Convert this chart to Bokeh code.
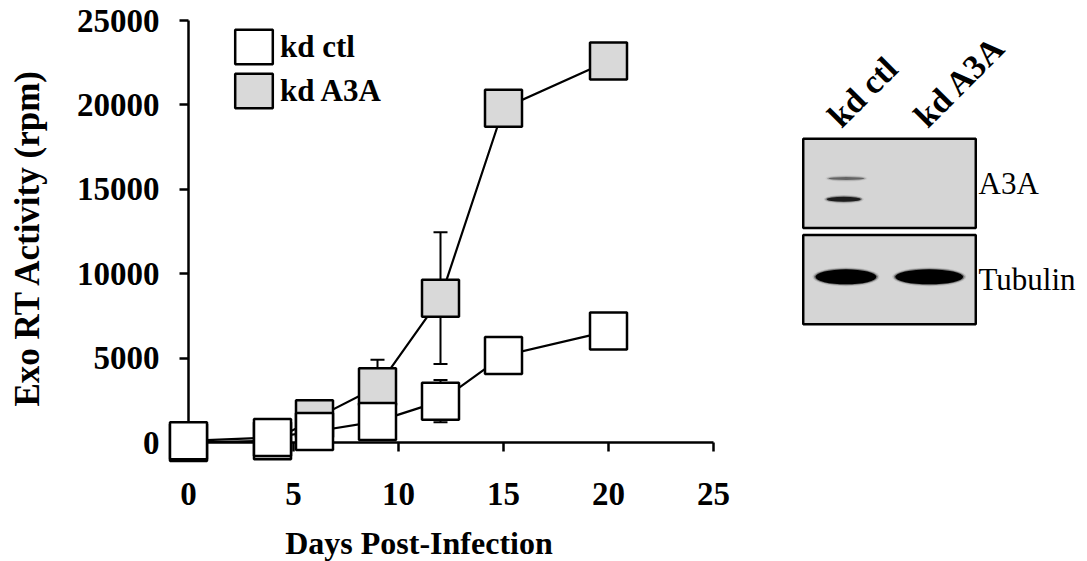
from math import pi

from bokeh.core.properties import value
from bokeh.embed import file_html
from bokeh.layouts import row
from bokeh.models import (ColumnDataSource, FactorRange, FixedTicker,
                          Legend, LegendItem, Range1d, TeeHead, Whisker)
from bokeh.plotting import figure
from bokeh.resources import INLINE

# ---------------- data ----------------
days = [0, 4, 6, 9, 12, 15, 20]
kd_ctl = [100, 300, 650, 1250, 2450, 5150, 6600]
kd_ctl_err = [50, 100, 150, 300, 1250, 250, 300]
kd_a3a = [0, 100, 1400, 3300, 8550, 19800, 22600]
kd_a3a_err = [0, 50, 300, 1600, 3900, 400, 400]

x_ticks = [0, 5, 10, 15, 20, 25]
y_ticks = [0, 5000, 10000, 15000, 20000, 25000]
series_names = ["kd ctl", "kd A3A"]
x_title = "Days Post-Infection"
y_title = "Exo RT Activity (rpm)"

# western blot
lanes = ["kd ctl", "kd A3A"]
proteins = ["Tubulin", "A3A"]          # bottom row first
band_lane = ["kd ctl", "kd ctl", "kd ctl", "kd A3A"]
band_protein = ["A3A", "A3A", "Tubulin", "Tubulin"]
band_intensity = [0.42, 0.8, 1.0, 1.0]

# ---------------- styles ----------------
FONT = "Liberation Serif"
GREY = "#d9d9d9"
BLOT_BG = "#d5d5d5"
H = 561
TOP, BOTTOM = 20, 119        # shared so the row keeps both frames in place

# ---------------- line chart ----------------
x_rng = Range1d(x_ticks[0], x_ticks[-1])
y_rng = Range1d(y_ticks[0], y_ticks[-1])
p = figure(width=770, height=H, x_range=x_rng, y_range=y_rng,
           output_backend="svg", toolbar_location=None,
           min_border_left=188, min_border_right=57, min_border_top=TOP, min_border_bottom=BOTTOM)
p.outline_line_color = None
p.grid.visible = False

for ax in (p.xaxis[0], p.yaxis[0]):
    ax.axis_line_width = 2.5
    ax.axis_line_color = "black"
    ax.major_tick_line_width = 2.5
    ax.major_tick_line_color = "black"
    ax.major_tick_out = 9
    ax.major_tick_in = 0
    ax.minor_tick_line_color = None
    ax.major_label_text_font = FONT
    ax.major_label_text_font_style = "bold"
    ax.major_label_text_font_size = "33px"
    ax.major_label_text_color = "black"
p.xaxis.ticker = FixedTicker(ticks=x_ticks)
p.yaxis.ticker = FixedTicker(ticks=y_ticks)
p.xaxis.major_label_standoff = 31
p.yaxis.major_label_standoff = 20


def make_source(vals, errs):
    return ColumnDataSource(dict(day=days, val=vals,
                                 upper=[v + e for v, e in zip(vals, errs)],
                                 lower=[v - e for v, e in zip(vals, errs)]))


src_a = make_source(kd_a3a, kd_a3a_err)
src_c = make_source(kd_ctl, kd_ctl_err)

for src in (src_a, src_c):
    p.add_layout(Whisker(source=src, base="day", upper="upper", lower="lower",
                         line_width=2, line_color="black",
                         upper_head=TeeHead(size=14, line_width=2, line_color="black"),
                         lower_head=TeeHead(size=14, line_width=2, line_color="black")))

p.line("day", "val", source=src_a, line_width=2.2, line_color="black")
p.line("day", "val", source=src_c, line_width=2.2, line_color="black")

r_a = p.rect("day", "val", width=37, height=37, width_units="screen", height_units="screen",
             source=src_a, fill_color=GREY, line_color="black", line_width=2.5, level="overlay")
r_c = p.rect("day", "val", width=37, height=37, width_units="screen", height_units="screen",
             source=src_c, fill_color="white", line_color="black", line_width=2.5, level="overlay")

legend = Legend(items=[LegendItem(label=series_names[0], renderers=[r_c]),
                       LegendItem(label=series_names[1], renderers=[r_a])],
                location=(42, 330), glyph_width=47, glyph_height=43, spacing=1,
                padding=0, margin=0, label_standoff=3,
                border_line_alpha=0, background_fill_alpha=0,
                label_text_font=FONT, label_text_font_style="bold",
                label_text_font_size="31px", label_text_color="black")
p.add_layout(legend)

# axis titles, anchored at the middle of each axis and shifted in pixels
x_mid = (x_rng.start + x_rng.end) / 2
y_mid = (y_rng.start + y_rng.end) / 2
p.text(x=[x_rng.start], y=[y_mid], text=[y_title], angle=pi / 2, x_offset=-161, y_offset=6,
       text_align="center", text_baseline="middle", text_font=value(FONT),
       text_font_style="bold", text_font_size="35px", text_color="black", level="overlay")
p.text(x=[x_mid], y=[y_rng.start], text=[x_title], x_offset=-32, y_offset=100,
       text_align="center", text_baseline="alphabetic", text_font=value(FONT),
       text_font_style="bold", text_font_size="32px", text_color="black", level="overlay")

# ---------------- western blot ----------------
p2 = figure(width=317, height=H,
            x_range=FactorRange(factors=lanes, range_padding=0.02),
            y_range=FactorRange(factors=proteins, range_padding=1.187,
                                range_padding_units="absolute"),
            x_axis_location=None, y_axis_location="right",
            output_backend="svg", toolbar_location=None,
            min_border_left=31, min_border_right=110, min_border_top=TOP, min_border_bottom=BOTTOM)
p2.outline_line_color = None
p2.grid.visible = False

panel_src = ColumnDataSource(dict(x=[(lanes[0], 0.5)] * len(proteins), y=proteins))
p2.rect("x", "y", width=2, height=0.925, source=panel_src, fill_color=BLOT_BG,
        line_color="black", line_width=2.5)

# band placement / shape (layout, not data)
BAND_DX = [0.0, -0.03, -0.005, -0.04]
BAND_DY = [0.05, -0.165, 0.03, 0.03]
BAND_W = [36, 34, 61, 68]
BAND_H = [3, 5, 15, 15]

for grow, mul in ((6, 0.12), (3, 0.35), (0, 1.0)):
    bsrc = ColumnDataSource(dict(
        x=[(l, dx) for l, dx in zip(band_lane, BAND_DX)],
        y=[(pr, dy) for pr, dy in zip(band_protein, BAND_DY)],
        w=[w + grow for w in BAND_W],
        h=[h + grow * 0.6 for h in BAND_H],
        a=[min(1.0, i * mul) for i in band_intensity]))
    p2.ellipse("x", "y", width="w", height="h", width_units="screen", height_units="screen",
               source=bsrc, fill_color="black", fill_alpha="a", line_color=None)

# lane names written at 45 degrees above the blot
lane_src = ColumnDataSource(dict(x=[(l, -0.15) for l in lanes],
                                 y=[(proteins[-1], 0.645)] * len(lanes), t=lanes))
p2.text("x", "y", text="t", source=lane_src, angle=pi / 4, text_align="left",
        text_baseline="alphabetic", text_font=value(FONT), text_font_style="bold",
        text_font_size="34px", text_color="black", level="overlay")

ya = p2.yaxis[0]
ya.major_label_text_font = FONT
ya.major_label_text_font_style = "normal"
ya.major_label_text_font_size = "31px"
ya.major_label_text_color = "black"
ya.axis_line_color = None
ya.major_tick_line_color = None
ya.minor_tick_line_color = None
ya.major_tick_out = 0
ya.major_tick_in = 0
ya.major_label_standoff = 1

layout = row(p, p2)
open("out.html", "w").write(file_html(layout, INLINE))
